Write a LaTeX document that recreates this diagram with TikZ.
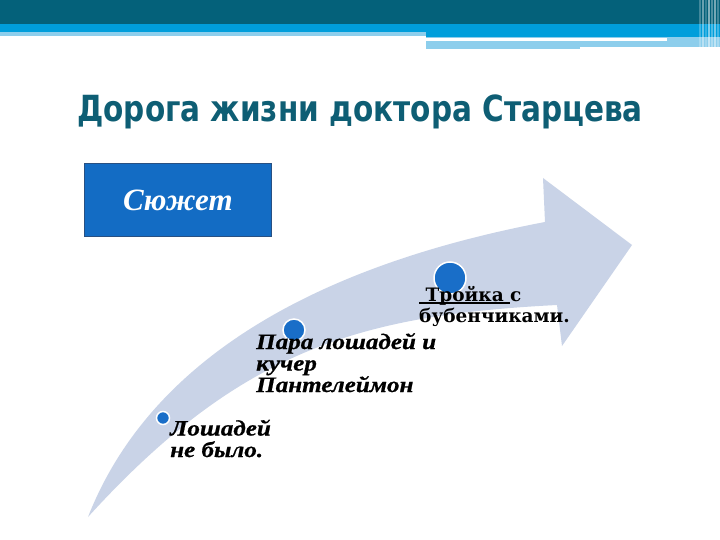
\documentclass[tikz,border=0pt]{standalone}
\usepackage{fontspec}
\setmainfont{DejaVu Serif}
\newfontfamily\titlefont[FakeStretch=0.82]{DejaVu Sans}
\newfontfamily\boxfont{Liberation Serif}
\newfontfamily\labfont[FakeStretch=1.14,FakeBold=0.8]{Liberation Serif}
\newfontfamily\labupfont{DejaVu Serif}
\definecolor{topdark}{RGB}{4,97,122}
\definecolor{topbright}{RGB}{0,158,219}
\definecolor{toplight}{RGB}{141,206,236}
\definecolor{titlecol}{RGB}{14,94,116}
\definecolor{boxfill}{RGB}{19,108,196}
\definecolor{boxline}{RGB}{40,80,130}
\definecolor{arrowcol}{RGB}{201,211,231}
\definecolor{dotcol}{RGB}{25,110,200}
\newcommand\ulthick[1]{\setbox0\hbox{#1}\rlap{\rule[-2.6pt]{\wd0}{1.3pt}}\box0}
\tikzset{
  dot/.style={circle, fill=dotcol, draw=white, line width=1.5pt, inner sep=0pt},
  lab/.style={anchor=base west, inner sep=0pt, align=left, font=\labfont\bfseries\itshape\fontsize{22}{21.5}\selectfont, text=black},
}
\begin{document}
\begin{tikzpicture}[x=1pt,y=-1pt]
\useasboundingbox (0,0) rectangle (720,540);
\fill[white] (0,0) rectangle (720,540);
% top bar
\fill[topdark] (0,0) rectangle (720,24);
\fill[topbright] (0,24) rectangle (426,32);
\fill[toplight] (0,32) rectangle (426,36);
\fill[topbright] (426,24) rectangle (720,37);
\fill[toplight] (426,37) rectangle (720,47);
\fill[white] (426,38.5) rectangle (667,41);
\fill[toplight] (426,47) rectangle (580,49);
\foreach \xx/\op in {699/0.25,702/0.4,705/0.2,708/0.5,711/0.3,714/0.45,717/0.25}
  \fill[white,opacity=\op] (\xx,0) rectangle (\xx+1.5,47);
% title
\node[font=\titlefont\bfseries\fontsize{36}{40}\selectfont, text=titlecol, anchor=base] (title) at (360,122) {Дорога жизни доктора Старцева};
% box
\node[draw=boxline, line width=0.8pt, fill=boxfill, minimum width=187pt, minimum height=73pt, anchor=north west, inner sep=0pt, text=white, font=\boxfont\bfseries\itshape\fontsize{31}{34}\selectfont] (syuzhet) at (84,163) {Сюжет};
% arrow
\fill[arrowcol] (88,517) .. controls (130,410) and (240,280) .. (545,222)
  -- (543,178) -- (632,245) -- (562,346) -- (557,305)
  .. controls (360,315) and (240,350) .. (88,517) -- cycle;
% dots
\node[dot, minimum size=13pt] (d1) at (163,418) {};
\node[dot, minimum size=22pt] (d2) at (294,330) {};
\node[dot, minimum size=32pt] (d3) at (450,278) {};
% labels (base = last line)
\node[lab] (l1) at (170,457) {Лошадей\\не было.};
\node[lab] (l2) at (256,392) {Пара лошадей и\\кучер\\Пантелеймон};
\node[lab, font=\labupfont\bfseries\fontsize{18.5}{21}\selectfont] (l3) at (419,322) {\ulthick{\ Тройка\ }с\\бубенчиками.};
\end{tikzpicture}
\end{document}
